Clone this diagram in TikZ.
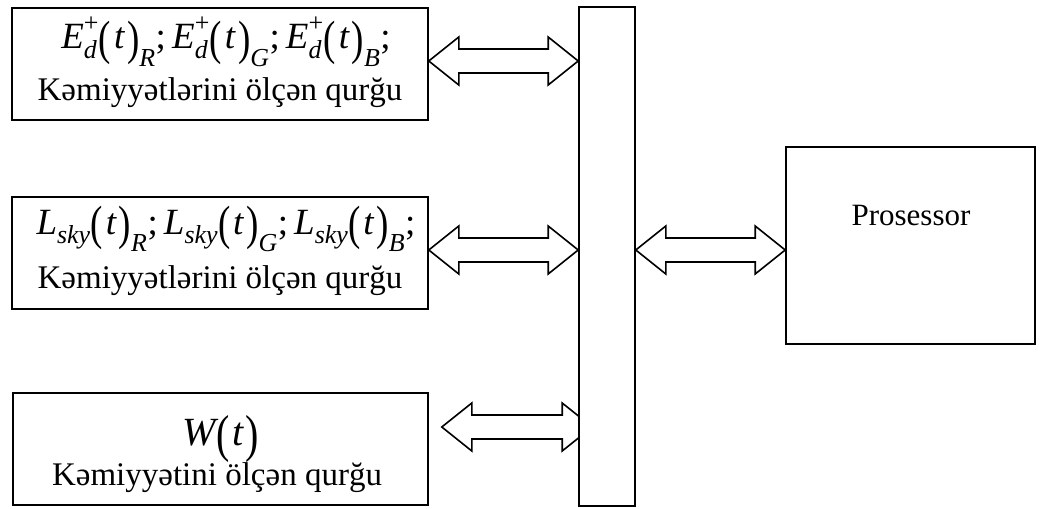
\documentclass[tikz,border=0pt]{standalone}
\usepackage{fontspec}
\setmainfont{Liberation Serif}
\usepackage{amsmath}
\usepackage{graphicx}
\usetikzlibrary{calc,backgrounds}
\newcommand{\vi}[1]{\textit{#1}}
\newcommand{\lpar}{\text{\raisebox{-0.16em}{\scalebox{1}[1.3]{(}}}\mkern2mu}
\newcommand{\rpar}{\mkern2mu\text{\raisebox{-0.16em}{\scalebox{1}[1.3]{)}}}}
\newcommand{\Ed}{{\vi{E}}_{\text{\raisebox{-3pt}{\itshape d}}}^{\text{\raisebox{3pt}{+}}}}
\newcommand{\Ls}{\vi{L}_{\vi{sky}}}
\newcommand{\dblarrow}[2]{\draw[barrow] (#1) -- ++(30,-24) -- ++(0,12) -- ($(#2)+(-30,-12)$) -- ++(0,-12) -- (#2) -- ++(-30,24) -- ++(0,-12) -- ($(#1)+(30,12)$) -- ++(0,12) -- cycle;}
\begin{document}
\begin{tikzpicture}[x=1pt,y=-1pt,
  frame/.style={draw, line width=1.6pt, inner sep=0pt, fill=white},
  lbl/.style={anchor=base, inner sep=0pt, font=\fontsize{33}{40}\selectfont},
  mathlbl/.style={lbl, font=\fontsize{37}{44}\selectfont},
  barrow/.style={draw, line width=1.6pt, fill=white, line join=miter}]
\useasboundingbox (0,0) rectangle (1040,508);
\node[frame, minimum width=416pt, minimum height=112pt] (b1) at (220,64) {};
\node[frame, minimum width=416pt, minimum height=112pt] (b2) at (220,253) {};
\node[frame, minimum width=415pt, minimum height=112pt] (b3) at (220.5,449) {};
\node[frame, minimum width=56pt, minimum height=499pt] (bus) at (607,256.5) {};
\node[frame, minimum width=249pt, minimum height=197pt] (proc) at (910.5,245.5) {};
\node[mathlbl] (t1a) at (226,49) {$\Ed\lpar\vi{t}\rpar_{\vi{R}}$;\,$\Ed\lpar\vi{t}\rpar_{\vi{G}}$;\,$\Ed\lpar\vi{t}\rpar_{\vi{B}}$;};
\node[lbl] (t1b) at (220,100) {Kəmiyyətlərini ölçən qurğu};
\node[mathlbl] (t2a) at (226,234) {$\Ls\lpar\vi{t}\rpar_{\vi{R}}$;\,$\Ls\lpar\vi{t}\rpar_{\vi{G}}$;\,$\Ls\lpar\vi{t}\rpar_{\vi{B}}$;};
\node[lbl] (t2b) at (220,288) {Kəmiyyətlərini ölçən qurğu};
\node[lbl, font=\fontsize{40}{48}\selectfont] (t3a) at (221,445) {$\vi{W}\lpar\vi{t}\rpar$};
\node[lbl] (t3b) at (217,485) {Kəmiyyətini ölçən qurğu};
\node[lbl, font=\fontsize{31}{37}\selectfont] (tp) at (911,225) {Prosessor};
\coordinate (a1L) at ([yshift=3pt]b1.east);
\coordinate (a1R) at (bus.west |- a1L);
\coordinate (a2L) at ([yshift=3pt]b2.east);
\coordinate (a2R) at (bus.west |- a2L);
\coordinate (a3L) at ([xshift=13pt,yshift=22pt]b3.east);
\coordinate (t3) at (bus.west |- a3L);
\coordinate (a3R) at ([xshift=14pt]t3);
\coordinate (apL) at (bus.east |- a2L);
\coordinate (apR) at (proc.west |- a2L);
\begin{pgfonlayer}{background}
\dblarrow{a1L}{a1R}
\dblarrow{a2L}{a2R}
\dblarrow{a3L}{a3R}
\dblarrow{apL}{apR}
\end{pgfonlayer}
\end{tikzpicture}
\end{document}
